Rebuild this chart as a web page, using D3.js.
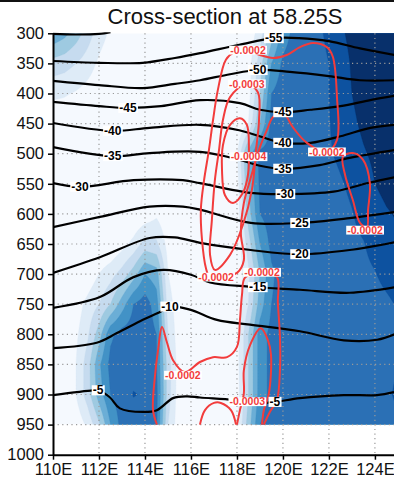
<!DOCTYPE html>
<html>
<head>
<meta charset="utf-8">
<script src="https://cdn.jsdelivr.net/npm/d3@7"></script>
<style>
  body { margin: 0; background: #fff; }
  text { font-family: "Liberation Sans", Arial, sans-serif; }
</style>
</head>
<body>
<svg id="chart" width="394" height="482"></svg>
<script>
// ---- axes ----
const lonTicks = [110, 112, 114, 116, 118, 120, 122, 124];
const presTicks = [300, 350, 400, 450, 500, 550, 600, 650, 700, 750, 800, 850, 900, 950, 1000];

// ---- shaded field (level index), rows = pressure, cols = longitude ----
const gridLon0 = 110, gridLonStep = 0.5;           // 110E ... 125E
const gridPres = [300, 350, 400, 450, 500, 550, 600, 650, 700, 750, 800, 850, 900, 950];
const shadeField = [
  [4.8,4.3,3.5,2.5,1.5,0.8,0.3,0,0,0,0,0,0,0,0,0,0,0.3,1.5,3.5,5.5,6.3,6.5,6.8,7.2,7.8,8.3,8.6,8.8,8.9,9.0],
  [2.6,2.4,2.0,1.5,0.8,0.3,0,0,0,0,0,0,0,0,0,0,0,0.5,2.5,5.0,6.2,6.5,6.5,6.7,7.0,7.5,8.1,8.5,8.7,8.8,8.9],
  [1.2,1.1,0.9,0.6,0.3,0,0,0,0,0,0,0,0,0,0,0,0,0.6,3.0,6.0,6.5,6.5,6.5,6.7,7.0,7.5,8.0,8.4,8.6,8.7,8.8],
  [0.3,0.3,0.2,0.1,0,0,0,0,0,0,0,0,0,0,0,0,0,1.0,4.0,6.3,6.5,6.5,6.5,6.6,6.95,7.4,7.8,8.2,8.5,8.6,8.7],
  [0,0,0,0,0,0,0,0,0,0,0,0,0,0,0,0,0.8,4.5,6.3,6.5,6.5,6.5,6.5,6.6,6.9,7.2,7.5,7.9,8.2,8.4,8.6],
  [0,0,0,0,0,0,0,0,0,0,0,0,0,0,0,0,0.5,4.0,6.2,6.5,6.5,6.5,6.5,6.5,6.6,6.9,7.2,7.5,8.0,8.3,8.5],
  [0,0,0,0,0,0,0,0,0.3,0.8,0.2,0,0,0,0,0,0.3,3.5,6.0,6.5,6.5,6.5,6.5,6.5,6.5,6.7,6.95,7.3,7.6,7.9,8.1],
  [0,0,0,0,0,0,0.6,1.3,2.4,2.2,0.6,0,0,0,0,0,0.2,2.5,5.0,6.3,6.5,6.5,6.5,6.5,6.5,6.6,6.8,6.95,7.3,7.6,7.8],
  [0,0,0,0.3,1.0,1.6,2.4,3.5,5.0,4.5,1.0,0.2,0,0,0,0,0.2,1.8,4.0,5.8,6.5,6.5,6.5,6.5,6.5,6.5,6.6,6.8,6.95,7.3,7.5],
  [0,0,0.5,1.3,2.0,3.0,4.5,6.0,6.5,5.5,1.5,0.3,0,0,0,0,0.3,2.0,4.5,6.0,6.5,6.5,6.5,6.5,6.5,6.5,6.5,6.5,6.6,6.8,7.1],
  [0,0,0.8,1.8,3.5,5.8,6.4,6.5,6.5,6.0,2.0,0.3,0,0,0,0,0.6,3.0,5.5,6.3,6.5,6.5,6.5,6.5,6.5,6.5,6.5,6.5,6.5,6.5,6.6],
  [0,0,1.0,2.5,4.8,6.3,6.5,6.6,6.6,6.1,2.5,0.4,0,0,0,0,0.6,3.0,5.5,6.3,6.5,6.5,6.5,6.5,6.5,6.5,6.5,6.5,6.5,6.7,6.9],
  [0,0.3,1.0,2.5,4.5,6.0,6.5,7.05,6.9,6.3,2.5,0.3,0,0,0,0,0.5,3.0,5.5,6.3,6.5,6.5,6.5,6.5,6.5,6.5,6.5,6.5,6.5,6.7,7.3],
  [0,0.2,0.3,1.2,2.8,5.0,6.4,6.5,6.5,6.2,2.0,0.3,0,0,0,0,0.8,3.5,6.0,6.4,6.5,6.5,6.5,6.5,6.5,6.5,6.5,6.5,6.5,6.5,6.6]
];
const shadeLevels = [1, 2, 3, 4, 5, 6, 7, 8];
const shadeColors = ["#f5f9fe", "#deebf7", "#c6dbef", "#9ecae1", "#6baed6",
                     "#4292c6", "#2b70b5", "#0d52a0", "#08306b"];

// ---- temperature contours (degC): [lon, hPa] ----
const tempLines = [
  { value: -60, labels: [], pts: [[110,301],[111,302],[112,301],[112.5,298]] },
  { value: -55, labels: [119.6], pts: [[110,346],[112,349],[113.9,349],[115.3,341],[116.4,333],[118.1,319],[119.6,308],[120.7,308],[122,313],[123.35,325],[124.85,336]] },
  { value: -50, labels: [118.9], pts: [[110,379],[112,386],[113.9,391],[115.3,384],[116.4,378],[117.7,368],[118.9,361],[120.3,364],[122,371],[123.35,378],[124.85,378]] },
  { value: -45, labels: [113.26, 120.0], pts: [[110,414],[112,421],[113.26,424],[114.7,421],[116.4,411],[118.13,416],[119,427],[120,431],[121.2,427],[122.5,421],[123.8,411],[124.85,404]] },
  { value: -40, labels: [112.6, 120.0], pts: [[110,449],[112.6,462],[114.2,457],[116.4,452],[118.1,461],[120,482],[121.2,482],[122.5,471],[123.8,457],[124.85,452]] },
  { value: -35, labels: [112.6, 120.0], pts: [[110,489],[112.6,504],[114.2,499],[116.4,497],[118.1,510],[119,520],[120,525],[121.6,519],[122.9,507],[124.85,494]] },
  { value: -30, labels: [111.17, 120.1], pts: [[110,549],[111.17,555],[113.5,544],[115.65,544],[116.4,549],[118.6,565],[120.1,567],[122.2,563],[123.65,549],[124.85,539]] },
  { value: -25, labels: [120.74], pts: [[110,622],[112.04,605],[114.2,588],[115.65,588],[116.4,593],[118.6,615],[120.74,615],[122.9,607],[124.85,597]] },
  { value: -20, labels: [120.74], pts: [[110,698],[112.04,672],[114.2,640],[115.3,639],[116.4,648],[118.6,660],[120.74,667],[122.9,660],[124.85,647]] },
  { value: -15, labels: [118.9], pts: [[110,756],[112.04,738],[113.5,705],[114.8,693],[116.0,701],[116.83,714],[118.6,721],[120.74,726],[122.9,731],[124.85,722]] },
  { value: -10, labels: [115.09], pts: [[110,823],[111.9,814],[112.78,798],[113.91,776],[114.65,763],[115.09,754],[115.96,759],[117.13,776],[118.57,784],[120.74,795],[122.65,810],[124.1,809],[124.85,800]] },
  { value: -5, labels: [111.96, 119.65], pts: [[110,901],[111.74,893],[111.96,893],[112.48,905],[112.91,923],[113.91,929],[114.52,926],[115.22,906],[115.83,903],[116.39,905],[117.83,909],[118.7,913],[119.52,913],[120.74,906],[122.65,901],[124.09,901],[124.83,896]] }
];

// ---- vertical velocity contours (Pa/s): [lon, hPa] ----
const omegaLines = [
  { text: "-0.0002", closed: true, labels: [[118.48, 328], [121.91, 497], [117.09, 705]],
    pts: [[118.48,328],[119.0,336],[119.57,341],[120.17,336],[120.74,323],[121.3,316],[121.91,323],[122.17,339],[122.35,406],[122.35,477],[121.91,497],[121.04,482],[120.43,456],[120.0,432],[119.57,439],[119.3,461],[119.0,489],[118.57,544],[118.3,582],[118.17,632],[118.3,677],[118.0,698],[117.09,705],[116.83,706],[116.65,690],[116.48,643],[116.43,593],[116.57,544],[116.78,494],[116.96,444],[117.17,394],[117.52,344],[117.91,331]] },
  { text: "-0.0002", closed: false, labels: [[115.65, 868], [119.09, 697]],
    pts: [[114.52,950],[114.35,926],[114.43,871],[114.57,826],[114.74,788],[114.96,814],[115.22,843],[115.74,863],[116.39,846],[116.96,838],[117.57,838],[118.0,821],[118.13,776],[118.22,734],[118.35,706],[119.09,696],[119.74,705],[119.78,748],[119.87,804],[119.87,859],[119.74,909],[119.43,929],[119.17,950]] },
  { text: "-0.0003", closed: true, labels: [[118.43, 384]],
    pts: [[118.43,384],[118.91,398],[118.96,444],[118.83,494],[118.65,560],[118.26,618],[117.7,668],[117.04,693],[116.83,668],[116.91,610],[117.04,544],[117.22,494],[117.39,444],[117.7,406]] },
  { text: "-0.0004", closed: true, labels: [[118.5, 505]],
    pts: [[118.13,441],[118.43,452],[118.52,494],[118.48,535],[118.26,565],[117.83,582],[117.48,569],[117.35,527],[117.39,486],[117.7,452]] },
  { text: "-0.0002", closed: true, labels: [[123.57, 627]],
    pts: [[122.61,505],[123.04,499],[123.48,510],[123.78,549],[123.7,594],[123.65,622],[123.35,615],[123.04,577],[122.7,535]] },
  { text: "-0.0003", closed: false, labels: [[118.45, 912]],
    pts: [[118.0,950],[118.13,926],[118.3,898],[118.3,860],[118.57,818],[119.04,790],[119.35,810],[119.48,834],[119.39,898],[119.17,926],[119.09,950]] },
  { text: "-0.0002", closed: false, labels: [],
    pts: [[116.39,950],[116.61,926],[117.0,914],[117.3,914],[117.74,926],[117.96,950]] }
];

// ---- layout ----
const svg = d3.select("#chart");
const x = d3.scaleLinear().domain([110, 124.83]).range([53, 394]);
const y = d3.scaleLinear().domain([300, 1000]).range([33.3, 454.7]);
const dataBottom = 950;

svg.append("rect").attr("x", 0).attr("y", 0).attr("width", 394).attr("height", 2).attr("fill", "#111");

svg.append("text").attr("x", 225).attr("y", 24).attr("text-anchor", "middle")
  .attr("font-size", 22).attr("fill", "#111").text("Cross-section at 58.25S");

const defs = svg.append("defs");
defs.append("clipPath").attr("id", "dataClip").append("rect")
  .attr("x", x(110)).attr("y", y(300)).attr("width", x(124.83) - x(110)).attr("height", y(dataBottom) - y(300));
defs.append("clipPath").attr("id", "plotClip").append("rect")
  .attr("x", x(110)).attr("y", y(300) - 1).attr("width", x(124.83) - x(110)).attr("height", y(1000) - y(300) + 1);

// shaded field
const fieldG = svg.append("g").attr("clip-path", "url(#dataClip)");
fieldG.append("rect").attr("x", x(110)).attr("y", y(300)).attr("width", x(124.83) - x(110))
  .attr("height", y(dataBottom) - y(300)).attr("fill", shadeColors[0]);

function sampleField(lon, p) {
  const nc = shadeField[0].length;
  let fi = (lon - gridLon0) / gridLonStep;
  fi = Math.max(0, Math.min(nc - 1, fi));
  let fj = (p - gridPres[0]) / (gridPres[1] - gridPres[0]);
  fj = Math.max(0, Math.min(gridPres.length - 1, fj));
  const i0 = Math.min(nc - 2, Math.floor(fi)), j0 = Math.min(gridPres.length - 2, Math.floor(fj));
  const tx = fi - i0, ty = fj - j0;
  const a = shadeField[j0][i0], b = shadeField[j0][i0 + 1];
  const c = shadeField[j0 + 1][i0], d = shadeField[j0 + 1][i0 + 1];
  return (a * (1 - tx) + b * tx) * (1 - ty) + (c * (1 - tx) + d * tx) * ty;
}
const dLon = 0.1, dP = 5;
const nx = Math.round((125 - 110) / dLon) + 1;
const ny = Math.round((950 - 300) / dP) + 1;
const fine = new Array(nx * ny);
for (let j = 0; j < ny; j++)
  for (let i = 0; i < nx; i++)
    fine[j * nx + i] = sampleField(110 + i * dLon, 300 + j * dP);

const contourGen = d3.contours().size([nx, ny]).thresholds(shadeLevels);
const toScreen = d3.geoTransform({
  point: function(cx, cy) { this.stream.point(x(110 + (cx - 0.5) * dLon), y(300 + (cy - 0.5) * dP)); }
});
const fillPath = d3.geoPath(toScreen);
fieldG.selectAll("path.band").data(contourGen(fine)).join("path")
  .attr("class", "band")
  .attr("d", fillPath)
  .attr("fill", (d, i) => shadeColors[i + 1])
  .attr("stroke", (d, i) => shadeColors[i + 1]).attr("stroke-width", 0.3);

// dotted grid
const gridG = svg.append("g").attr("stroke", "#9a9a9a").attr("stroke-width", 1.2)
  .attr("stroke-dasharray", "1.2,3.4");
gridG.selectAll("line.v").data(lonTicks.slice(1)).join("line")
  .attr("x1", d => x(d)).attr("x2", d => x(d)).attr("y1", y(300)).attr("y2", y(1000));
gridG.selectAll("line.h").data(presTicks.slice(1, -1)).join("line")
  .attr("y1", d => y(d)).attr("y2", d => y(d)).attr("x1", x(110)).attr("x2", x(124.83));

// contour lines
const lineG = svg.append("g").attr("clip-path", "url(#plotClip)").attr("fill", "none");
const openLine = d3.line().x(d => x(d[0])).y(d => y(d[1])).curve(d3.curveCatmullRom.alpha(0.5));
const closedLine = d3.line().x(d => x(d[0])).y(d => y(d[1])).curve(d3.curveCatmullRomClosed.alpha(0.5));

lineG.selectAll("path.temp").data(tempLines).join("path")
  .attr("class", "temp").attr("d", d => openLine(d.pts))
  .attr("stroke", "#000").attr("stroke-width", 2.2);

lineG.selectAll("path.omega").data(omegaLines).join("path")
  .attr("class", "omega").attr("d", d => (d.closed ? closedLine : openLine)(d.pts))
  .attr("stroke", "#f23c3c").attr("stroke-width", 2);

// contour labels
function presAt(pts, lon) {
  for (let i = 0; i < pts.length - 1; i++) {
    const [x0, y0] = pts[i], [x1, y1] = pts[i + 1];
    if ((lon >= x0 && lon <= x1) || (lon <= x0 && lon >= x1))
      return x1 === x0 ? y0 : y0 + (y1 - y0) * (lon - x0) / (x1 - x0);
  }
  return pts[pts.length - 1][1];
}
const labelG = svg.append("g");
function addLabel(px, py, str, color, size) {
  const g = labelG.append("g");
  const t = g.append("text").attr("x", px).attr("y", py).attr("dy", "0.35em")
    .attr("text-anchor", "middle").attr("font-size", size).attr("font-weight", "bold")
    .attr("fill", color).text(str);
  const bb = t.node().getBBox();
  g.insert("rect", "text").attr("x", bb.x - 1).attr("y", py - size * 0.42)
    .attr("width", bb.width + 2).attr("height", size * 0.84).attr("fill", "#fff");
}
omegaLines.forEach(l => l.labels.forEach(([lon, p]) => addLabel(x(lon), y(p), l.text, "#f23c3c", 10.5)));
tempLines.forEach(l => l.labels.forEach(lon => addLabel(x(lon), y(presAt(l.pts, lon)), String(l.value), "#000", 12)));

// axes
const axL = svg.append("g").attr("transform", `translate(${x(110)},0)`)
  .call(d3.axisLeft(y).tickValues(presTicks).tickSize(5).tickSizeOuter(0).tickPadding(4).tickFormat(d3.format("d")));
const axB = svg.append("g").attr("transform", `translate(0,${y(1000)})`)
  .call(d3.axisBottom(x).tickValues(lonTicks).tickSize(5).tickSizeOuter(0).tickPadding(4).tickFormat(d => d + "E"));
[axL, axB].forEach(a => {
  a.select(".domain").attr("stroke", "#000").attr("stroke-width", 2);
  a.selectAll(".tick line").attr("stroke", "#000").attr("stroke-width", 1.5);
  a.selectAll(".tick text").attr("fill", "#111").attr("font-size", 16.5)
    .attr("font-family", "'Liberation Sans', Arial, sans-serif");
});
</script>
</body>
</html>
